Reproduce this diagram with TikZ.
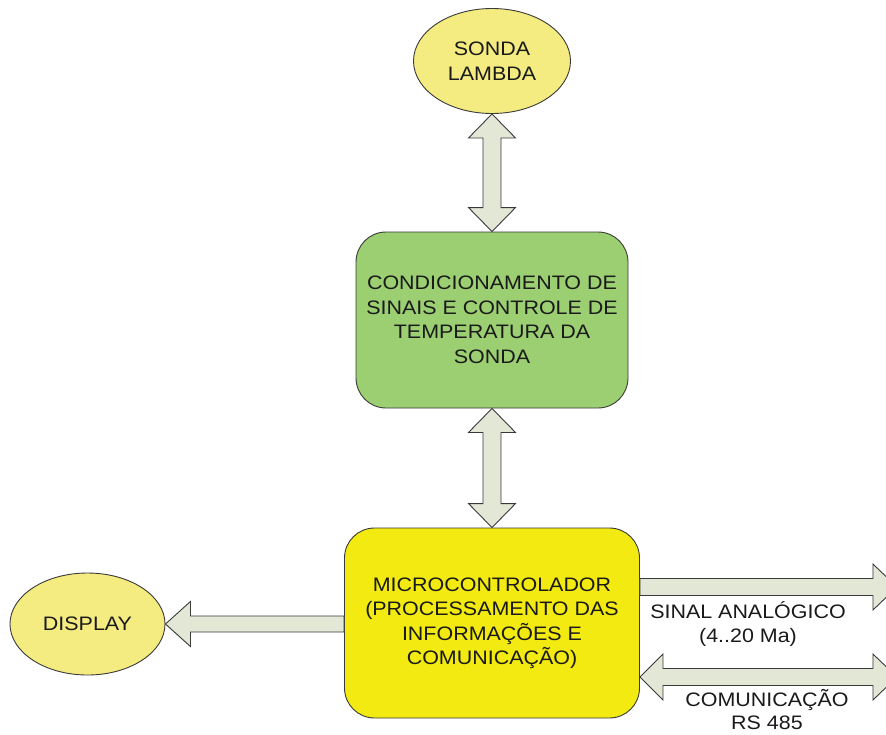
\documentclass[tikz,border=0pt]{standalone}
\usepackage{fontspec}
\setmainfont{Liberation Sans}[FakeStretch=1.1]
\usetikzlibrary{shapes.geometric,calc}

\definecolor{sensorfill}{HTML}{F4EC80}
\definecolor{condfill}{HTML}{9BCF72}
\definecolor{mcufill}{HTML}{F2EA10}
\definecolor{arrowfill}{HTML}{E3E7D5}
\definecolor{outline}{HTML}{3A3A3A}
\definecolor{txt}{HTML}{1A1A1A}

% vertical two-headed block arrow: #1 upper tip, #2 lower tip
\newcommand\blkvdouble[2]{%
  \draw[blockarrow] (#1) -- ($(#1)+(23.5,24)$) -- ($(#1)+(9,24)$)
    -- ($(#2)+(9,-24)$) -- ($(#2)+(23.5,-24)$) -- (#2)
    -- ($(#2)+(-23.5,-24)$) -- ($(#2)+(-9,-24)$)
    -- ($(#1)+(-9,24)$) -- ($(#1)+(-23.5,24)$) -- cycle;}
% horizontal two-headed block arrow: #1 left tip, #2 right tip
\newcommand\blkhdouble[2]{%
  \draw[blockarrow] (#1) -- ($(#1)+(23,-23)$) -- ($(#1)+(23,-8.5)$)
    -- ($(#2)+(-24,-8.5)$) -- ($(#2)+(-24,-23)$) -- (#2)
    -- ($(#2)+(-24,23)$) -- ($(#2)+(-24,8.5)$)
    -- ($(#1)+(23,8.5)$) -- ($(#1)+(23,23)$) -- cycle;}

\tikzset{
  txtfont/.style={font=\fontsize{19.5}{24.5}\selectfont, text=txt, align=center},
  sensor/.style={ellipse, draw=outline, line width=0.9pt, fill=sensorfill,
    inner sep=0pt, txtfont},
  block/.style={rectangle, rounded corners=30pt, draw=outline, line width=0.9pt,
    inner sep=0pt, txtfont},
  blockarrow/.style={draw=outline, line width=0.9pt, fill=arrowfill, line join=miter},
  label/.style={inner sep=0pt, txtfont},
}

\begin{document}
\begin{tikzpicture}[x=1pt, y=-1pt]
  \path[use as bounding box, clip] (0,0) rectangle (886,734);
  \fill[white] (0,0) rectangle (886,734);

  % blocks
  \node[sensor, minimum width=157pt, minimum height=105pt] (lambda) at (492,61)
    {SONDA\\LAMBDA};
  \node[block, fill=condfill, minimum width=272pt, minimum height=176pt] (cond)
    at (492,320) {CONDICIONAMENTO DE\\SINAIS E CONTROLE DE\\TEMPERATURA DA\\SONDA};
  \node[block, fill=mcufill, minimum width=295pt, minimum height=190pt] (mcu)
    at (492,623) {MICROCONTROLADOR\\(PROCESSAMENTO DAS\\INFORMAÇÕES E\\COMUNICAÇÃO)};
  \node[sensor, minimum width=155pt, minimum height=102pt] (display) at (87.5,624)
    {DISPLAY};

  % connector end points
  \coordinate (dispTail) at ($(mcu.west)+(0,1)$);
  \coordinate (dispTip) at (display.east);
  \coordinate (sinalTail) at ($(mcu.east)+(0,-36)$);
  \coordinate (sinalTip) at ($(mcu.east)+(257,-36)$);
  \coordinate (comLeft) at ($(mcu.east)+(0,54)$);
  \coordinate (comRight) at ($(mcu.east)+(257,54)$);

  % connectors
  \blkvdouble{lambda.south}{cond.north}
  \blkvdouble{cond.south}{mcu.north}
  \draw[blockarrow] (dispTip) -- ($(dispTip)+(25,-22.5)$) -- ($(dispTip)+(25,-8)$)
    -- ($(dispTail)+(0,-8)$) -- ($(dispTail)+(0,8)$) -- ($(dispTip)+(25,8)$)
    -- ($(dispTip)+(25,22.5)$) -- cycle;
  \draw[blockarrow] (sinalTip) -- ($(sinalTip)+(-24,-23)$) -- ($(sinalTip)+(-24,-8.5)$)
    -- ($(sinalTail)+(0,-8.5)$) -- ($(sinalTail)+(0,8.5)$) -- ($(sinalTip)+(-24,8.5)$)
    -- ($(sinalTip)+(-24,23)$) -- cycle;
  \blkhdouble{comLeft}{comRight}

  % connector labels
  \node[label] (sinalLabel) at (748,624) {SINAL ANALÓGICO\\(4..20 Ma)};
  \node[label, font=\fontsize{19.5}{23}\selectfont] (comLabel) at (767,710)
    {COMUNICAÇÃO\\RS 485};
\end{tikzpicture}
\end{document}
